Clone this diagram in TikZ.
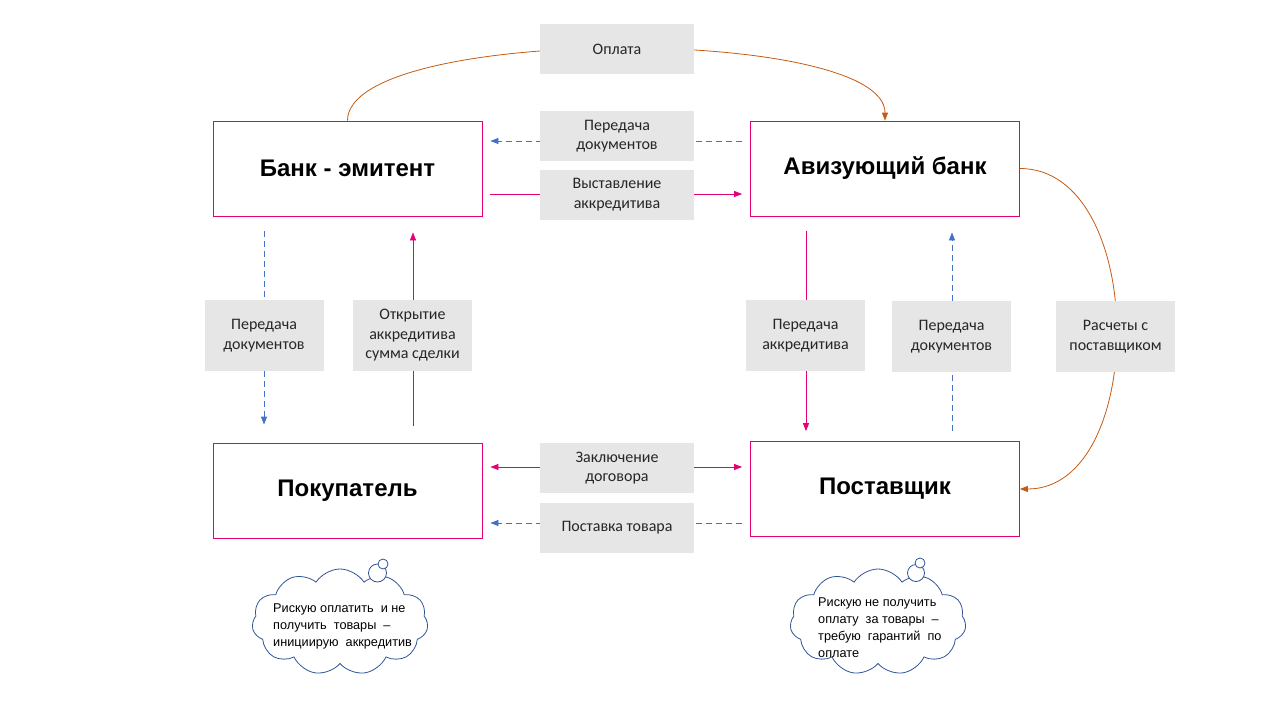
\documentclass[tikz,border=0pt]{standalone}
\usepackage{fontspec}
\setmainfont{Carlito}
\newfontfamily\arialfont{Liberation Sans}
\usetikzlibrary{arrows.meta, shapes.symbols}
\definecolor{boxpink}{RGB}{230,0,118}
\definecolor{lblgray}{RGB}{231,230,230}
\definecolor{docblue}{RGB}{68,114,196}
\definecolor{payorange}{RGB}{197,90,17}
\definecolor{cloudblue}{RGB}{47,85,151}

\begin{document}
\begin{tikzpicture}[x=1pt, y=-1pt,
  party/.style={draw=boxpink, line width=0.8pt, fill=white, minimum width=269pt, minimum height=95pt,
    font=\arialfont\bfseries\fontsize{24}{28}\selectfont},
  lbl/.style={fill=lblgray, inner sep=0pt, align=center, text=black!85, font=\fontsize{16}{19.5}\selectfont},
  hlbl/.style={lbl, minimum width=154pt, minimum height=50pt},
  vlbl/.style={lbl, minimum width=119pt, minimum height=71pt},
  flow/.style={boxpink, line width=0.8pt, -{Triangle[length=8pt,width=6pt]}},
  docs/.style={docblue, line width=0.8pt, dash pattern=on 6pt off 4pt, -{Triangle[length=8pt,width=6pt]}},
  pay/.style={payorange, line width=0.8pt, -{Triangle[length=8pt,width=6pt]}},
  thought/.style={cloud, cloud puffs=11, cloud puff arc=115, aspect=1.6, draw=cloudblue, line width=0.8pt,
    minimum width=176pt, minimum height=106pt},
  bubble/.style={draw=cloudblue, line width=0.8pt, fill=white},
  worry/.style={anchor=north west, inner sep=0pt, align=left, font=\arialfont\fontsize{12.7}{17}\selectfont}]
\useasboundingbox (0,0) rectangle (1280,720);
% parties
\node[party] (emit) at (347.5,168.5) {Банк - эмитент};
\node[party] (aviz) at (885,168.5) {Авизующий банк};
\node[party] (buyer) at (347.5,490.5) {Покупатель};
\node[party] (supplier) at (885,489) {Поставщик};
% flows between the banks
\draw[docs] ([xshift=-8pt,yshift=27.5pt]aviz.west) -- ([xshift=8pt,yshift=27.5pt]emit.east);
\draw[flow] ([xshift=8pt,yshift=-25.5pt]emit.east) -- ([xshift=-8pt,yshift=-25.5pt]aviz.west);
\draw[pay] (emit.north) .. controls (347.5,25) and (885,25) .. (aviz.north);
% flows between buyer and supplier
\draw[flow, {Triangle[length=8pt,width=6pt]}-{Triangle[length=8pt,width=6pt]}]
  ([xshift=8pt,yshift=23.5pt]buyer.east) -- ([xshift=-8pt,yshift=22pt]supplier.west);
\draw[docs] ([xshift=-8pt,yshift=-34pt]supplier.west) -- ([xshift=8pt,yshift=-32.5pt]buyer.east);
% vertical flows
\draw[docs] ([xshift=-83.5pt,yshift=-15pt]emit.south) -- ([xshift=-83.5pt,yshift=18pt]buyer.north);
\draw[flow] ([xshift=65.5pt,yshift=17pt]buyer.north) -- ([xshift=65.5pt,yshift=-16pt]emit.south);
\draw[flow] ([xshift=-79pt,yshift=-15pt]aviz.south) -- ([xshift=-79pt,yshift=10pt]supplier.north);
\draw[docs] ([xshift=67pt,yshift=10pt]supplier.north) -- ([xshift=67pt,yshift=-16pt]aviz.south);
\draw[pay] (aviz.east) .. controls (1148,168.5) and (1148,489) .. (supplier.east);
% labels
\node[hlbl] (paylbl) at (617,49) {Оплата};
\node[hlbl] (topdocs) at (617,136) {Передача\\документов};
\node[hlbl] (issue) at (617,194.5) {Выставление\\аккредитива};
\node[hlbl] (contract) at (617,468) {Заключение\\договора};
\node[hlbl] (delivery) at (617,527.5) {Поставка товара};
\node[vlbl] (leftdocs) at (264,335.5) {Передача\\документов};
\node[vlbl] (opening) at (412.5,335.5) {Открытие\\аккредитива\\сумма сделки};
\node[vlbl] (transfer) at (805.5,335.5) {Передача\\аккредитива};
\node[vlbl] (rightdocs) at (951.5,336.5) {Передача\\документов};
\node[vlbl] (settle) at (1115.5,336.5) {Расчеты с\\поставщиком};
% thoughts
\node[thought] (buyercloud) at (340,622) {};
\draw[bubble] (377.5,573) circle (9);
\draw[bubble] (383,564) circle (5);
\node[worry] (buyerworry) at (273,604) {Рискую оплатить \ и не\\получить \ товары \ –\\инициирую \ аккредитив};
\node[thought] (suppliercloud) at (878,622) {};
\draw[bubble] (916,573) circle (8.5);
\draw[bubble] (920,563) circle (5);
\node[worry] (supplierworry) at (818,598) {Рискую не получить\\оплату \ за товары \ –\\требую \ гарантий \ по\\оплате};
\end{tikzpicture}
\end{document}
